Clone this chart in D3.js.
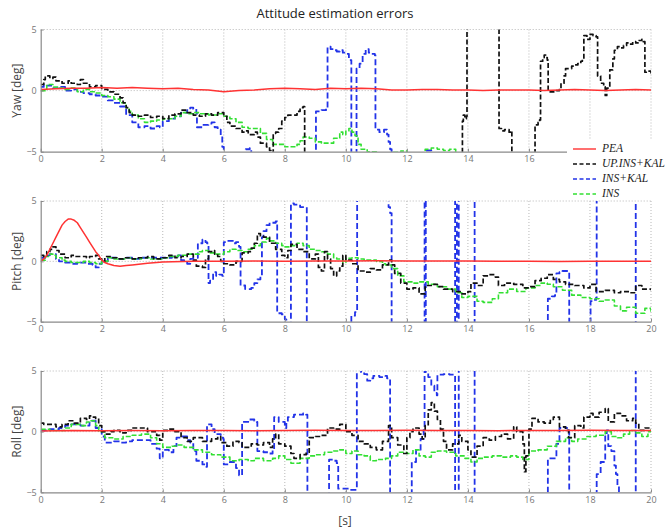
<!DOCTYPE html>
<html>
<head>
<meta charset="utf-8">
<script src="https://cdn.jsdelivr.net/npm/d3@7"></script>
<style>
  body { margin: 0; background: #fff; }
  svg { display: block; }
</style>
</head>
<body>
<svg id="chart"></svg>
<script>
var width = 669;
var height = 531;

// ================= DATA ([time s, error deg]) =================
const xTicks = [0, 2, 4, 6, 8, 10, 12, 14, 16, 18, 20];
const yTicks = [-5, 0, 5];
const seriesNames = ["PEA", "UP.INS+KAL", "INS+KAL", "INS"];
const panelLabels = ["Yaw [deg]", "Pitch [deg]", "Roll [deg]"];

const yawPEA = [[0,0.1],[0.5,0.15],[1,0.2],[1.5,0.2],[2,0.25],[2.5,0.2],[3,0.25],[3.5,0.2],[4,0.15],[4.5,0.2],[5,0.1],[5.5,0.05],[6,-0.1],[6.5,0],[7,0.05],[7.5,0.15],[8,0.2],[8.5,0.15],[9,0.1],[9.5,0.2],[10,0.15],[10.5,0.2],[11,0.15],[11.5,0.05],[12,0.05],[12.5,0.1],[13,0.1],[13.5,0.05],[14,0.05],[14.5,0],[15,0.05],[15.5,0.05],[16,0.05],[16.5,0],[17,0.05],[17.5,0.1],[18,0.05],[18.5,0],[19,0.05],[19.5,0.1],[20,0.05]];
const yawUP = [[0,0.5],[0.1,0.9],[0.15,1.2],[0.3,1.0],[0.4,1.1],[0.5,0.8],[0.7,0.6],[0.9,0.8],[1.0,0.6],[1.2,0.5],[1.3,0.9],[1.4,0.6],[1.6,0.3],[1.8,0.4],[2.0,0.1],[2.2,-0.1],[2.4,-0.3],[2.6,-0.6],[2.7,-1.0],[2.8,-1.4],[2.9,-1.8],[3.0,-2.0],[3.2,-2.1],[3.4,-2.0],[3.6,-2.2],[3.8,-2.1],[4.0,-2.3],[4.2,-2.0],[4.4,-1.9],[4.6,-1.6],[4.8,-1.8],[5.0,-2.0],[5.2,-2.1],[5.4,-1.9],[5.6,-2.0],[5.8,-1.8],[6.0,-2.1],[6.1,-2.6],[6.2,-2.9],[6.4,-3.1],[6.6,-3.4],[6.7,-3.3],[6.8,-3.6],[7.0,-3.4],[7.1,-3.8],[7.2,-4.3],[7.4,-4.6],[7.5,-4.9],[7.55,-6],[7.6,-6],[7.62,-3.5],[7.7,-3.4],[7.8,-3.1],[7.9,-2.5],[8.0,-2.2],[8.1,-2.0],[8.3,-2.0],[8.4,-1.7],[8.5,-1.4],[8.6,-1.3],[8.62,-1.3],[8.65,-7],[13.8,-7],[13.82,-2.5],[13.85,-2.0],[13.9,-2.3],[13.95,-2.1],[13.97,8],[15.0,8],[15.02,-3.1],[15.1,-3.3],[15.2,-3.2],[15.35,-3.4],[15.42,-3.3],[15.44,-7],[16.18,-7],[16.2,-2.8],[16.3,-2.6],[16.35,-2.4],[16.38,2.4],[16.45,2.7],[16.5,2.9],[16.55,2.7],[16.6,2.5],[16.63,-0.1],[16.8,-0.1],[16.9,0],[17.0,0.1],[17.05,0.6],[17.15,1.2],[17.2,1.8],[17.3,1.8],[17.4,2.0],[17.5,2.1],[17.6,2.2],[17.7,2.4],[17.75,2.6],[17.8,4.5],[17.9,4.2],[18.0,4.6],[18.1,4.5],[18.2,4.4],[18.25,1.2],[18.35,0.6],[18.45,0.3],[18.5,-0.4],[18.55,0.2],[18.65,1.7],[18.75,2.6],[18.8,3.3],[18.9,3.6],[19.0,3.5],[19.1,3.7],[19.2,3.9],[19.3,3.8],[19.4,4.0],[19.5,3.9],[19.6,4.1],[19.7,4.2],[19.75,4.0],[19.8,1.5],[19.9,1.6],[20.0,1.3]];
const yawINSKAL = [[0,0.3],[0.1,0.5],[0.2,0.4],[0.4,0.2],[0.6,0.3],[0.8,0.0],[1.0,0.1],[1.2,-0.1],[1.4,-0.2],[1.6,-0.3],[1.8,-0.4],[2.0,-0.5],[2.2,-0.8],[2.4,-1.0],[2.6,-1.3],[2.8,-2.0],[3.0,-2.6],[3.2,-3.0],[3.4,-2.9],[3.6,-3.1],[3.8,-2.9],[3.9,-3.0],[4.0,-2.5],[4.2,-2.3],[4.4,-2.1],[4.6,-1.8],[4.8,-1.6],[4.9,-1.4],[5.0,-1.5],[5.1,-1.8],[5.12,-3.0],[5.3,-2.8],[5.5,-2.7],[5.6,-2.6],[5.7,-3.0],[5.8,-3.2],[5.9,-3.7],[5.95,-4.6],[6.0,-7],[6.7,-7],[6.72,-4.8],[6.85,-4.7],[6.9,-7],[9.0,-7],[9.02,-1.7],[9.2,-1.6],[9.35,-1.4],[9.4,3.6],[9.5,3.4],[9.6,3.3],[9.7,3.2],[9.8,3.3],[9.9,3.1],[10.0,3.0],[10.1,2.5],[10.18,-7],[10.33,-7],[10.35,1.8],[10.45,2.2],[10.55,3.0],[10.65,3.4],[10.75,3.1],[10.85,3.0],[10.95,2.9],[10.97,-3.2],[11.1,-3.4],[11.25,-3.2],[11.35,-3.6],[11.4,-4.2],[11.45,-4.8],[11.5,-7],[12.58,-7],[12.6,-4.9],[12.75,-4.9],[12.8,-7],[20,-7]];
const yawINS = [[0,0.0],[0.2,0.5],[0.4,0.3],[0.6,0.2],[0.8,0.1],[1.0,0.2],[1.2,-0.1],[1.4,0.1],[1.6,-0.1],[1.8,-0.2],[2.0,-0.4],[2.2,-0.5],[2.4,-0.7],[2.6,-1.0],[2.8,-1.4],[2.9,-1.7],[3.0,-2.0],[3.2,-2.3],[3.4,-2.6],[3.6,-2.5],[3.8,-2.4],[4.0,-2.3],[4.2,-2.3],[4.4,-2.1],[4.6,-1.8],[4.8,-1.9],[5.0,-1.8],[5.2,-1.9],[5.5,-2.0],[5.8,-1.9],[6.0,-2.1],[6.2,-2.3],[6.4,-2.6],[6.6,-3.0],[6.8,-3.1],[7.0,-3.1],[7.2,-3.5],[7.4,-4.0],[7.6,-4.4],[7.8,-4.4],[8.0,-4.6],[8.2,-4.6],[8.4,-4.4],[8.5,-4.1],[8.6,-3.8],[8.8,-3.9],[9.0,-4.2],[9.2,-4.3],[9.4,-4.3],[9.6,-3.9],[9.8,-3.4],[9.9,-3.6],[10.0,-3.3],[10.1,-3.1],[10.2,-3.4],[10.3,-3.7],[10.4,-4.4],[10.5,-4.8],[10.7,-5.0],[11.0,-5.3],[11.5,-5.05],[11.8,-4.95],[12.0,-5.1],[12.5,-5.3],[12.6,-4.8],[12.8,-4.7],[13.0,-4.8],[13.2,-4.9],[13.4,-4.8],[13.6,-5.2],[14,-6],[20,-6]];

const pitchPEA = [[0,0.0],[0.1,0.2],[0.2,0.5],[0.3,1.0],[0.4,1.5],[0.5,2.0],[0.6,2.5],[0.7,3.0],[0.8,3.3],[0.9,3.5],[1.0,3.5],[1.1,3.4],[1.2,3.2],[1.3,2.8],[1.4,2.4],[1.5,2.0],[1.6,1.6],[1.7,1.2],[1.8,0.8],[1.9,0.5],[2.0,0.1],[2.1,-0.1],[2.2,-0.2],[2.4,-0.35],[2.6,-0.4],[2.8,-0.35],[3.0,-0.3],[3.5,-0.15],[4.0,-0.05],[5,0],[6,0],[7,0.02],[8,0],[9,0.02],[10,0.02],[11,0.05],[12,0.03],[13,0.02],[14,0.02],[15,0],[16,0],[17,-0.02],[18,0],[19,0],[20,0]];
const pitchUP = [[0,0.5],[0.1,0.4],[0.2,0.8],[0.3,1.0],[0.4,1.2],[0.5,0.9],[0.6,0.6],[0.8,0.3],[1.0,0.5],[1.1,0.4],[1.3,0.4],[1.5,0.3],[1.6,0.4],[1.8,0.5],[1.9,0.2],[2.0,0.0],[2.1,0.4],[2.3,0.3],[2.5,0.2],[2.7,0.3],[3.0,0.2],[3.2,0.3],[3.5,0.4],[3.7,0.2],[4.0,0.3],[4.2,0.5],[4.4,0.3],[4.6,0.4],[4.8,0.6],[5.0,0.1],[5.1,-0.4],[5.3,-0.5],[5.4,0.2],[5.5,0.8],[5.6,0.9],[5.7,0.6],[5.8,0.4],[5.9,0.0],[6.0,-0.2],[6.2,-0.3],[6.4,0.0],[6.6,0.7],[6.8,0.8],[6.9,1.1],[7.0,1.5],[7.1,2.3],[7.2,2.1],[7.3,2.0],[7.5,1.5],[7.7,1.0],[7.9,0.5],[8.0,0.3],[8.1,0.9],[8.2,1.4],[8.4,1.0],[8.6,0.8],[8.8,0.2],[9.0,0.6],[9.1,-0.5],[9.2,-0.8],[9.3,0.8],[9.4,0.2],[9.5,-0.6],[9.6,-1.2],[9.7,-0.8],[9.8,-0.4],[9.9,0.5],[10.0,0.1],[10.2,-0.2],[10.4,-0.8],[10.6,-0.9],[10.8,-0.6],[11.0,-0.7],[11.2,-0.3],[11.4,0.1],[11.5,-0.3],[11.6,-1.0],[11.8,-1.8],[12.0,-2.3],[12.2,-2.2],[12.4,-2.7],[12.6,-2.0],[12.8,-1.9],[13.0,-2.1],[13.2,-2.3],[13.5,-2.5],[13.8,-2.7],[14.0,-2.5],[14.1,-1.8],[14.3,-2.0],[14.5,-1.2],[14.7,-1.1],[14.9,-1.3],[15.0,-2.0],[15.2,-1.8],[15.5,-1.9],[15.8,-2.2],[16.0,-2.1],[16.2,-1.6],[16.4,-1.4],[16.6,-1.1],[16.8,-1.5],[17.0,-1.7],[17.2,-1.9],[17.5,-2.0],[17.8,-2.2],[18.0,-1.9],[18.2,-2.5],[18.5,-2.4],[18.8,-2.6],[19.0,-2.5],[19.3,-2.6],[19.5,-2.0],[19.7,-2.3],[20.0,-2.4]];
const pitchINSKAL = [[0,0.3],[0.15,0.5],[0.3,0.6],[0.5,0.2],[0.6,0.0],[0.8,-0.1],[1.0,-0.2],[1.2,-0.1],[1.5,-0.2],[1.7,-0.3],[1.8,-0.5],[1.9,-0.2],[2.0,0.0],[2.2,0.3],[2.5,0.2],[2.8,0.3],[3.0,0.2],[3.3,0.3],[3.6,0.3],[4.0,0.3],[4.3,0.4],[4.5,0.5],[4.6,0.1],[4.7,-0.1],[4.8,-0.2],[4.9,0.2],[5.0,0.3],[5.1,0.3],[5.15,1.5],[5.3,1.8],[5.4,1.6],[5.45,1.5],[5.5,-1.8],[5.55,-1.6],[5.65,-0.9],[5.75,-1.2],[5.85,-1.1],[5.95,-1.2],[6.0,1.6],[6.1,1.7],[6.3,1.5],[6.4,1.6],[6.5,1.2],[6.55,-2.0],[6.7,-2.3],[6.9,-2.2],[7.0,-1.8],[7.1,-1.5],[7.2,-1.2],[7.25,2.0],[7.3,2.5],[7.4,3.0],[7.5,3.2],[7.7,3.3],[7.75,-4.3],[7.9,-4.4],[8.0,-4.8],[8.05,-7],[8.18,-7],[8.2,4.8],[8.3,4.7],[8.5,4.5],[8.7,4.5],[8.72,-7],[10.15,-7],[10.18,-4.5],[10.3,-4.2],[10.35,-4.1],[10.37,8],[11.38,8],[11.4,4.5],[11.45,4.0],[11.5,-7],[12.56,-7],[12.58,8],[12.6,8],[12.62,-7],[13.56,-7],[13.58,8],[13.62,8],[13.64,-7],[13.68,-7],[13.7,8],[14.2,8],[14.22,-7],[16.6,-7],[16.62,-3.1],[16.75,-2.9],[16.85,-2.8],[16.9,-1.0],[17.0,-0.9],[17.1,-0.8],[17.3,-0.8],[17.32,-7],[18.0,-7],[18.02,-3.3],[18.1,-3.2],[18.2,-3.0],[18.22,8],[19.48,8],[19.5,-7],[20,-7]];
const pitchINS = [[0,0.1],[0.15,0.4],[0.3,0.6],[0.4,0.5],[0.5,0.3],[0.7,0.1],[0.8,0.0],[1.0,-0.1],[1.2,-0.1],[1.4,0.0],[1.6,-0.1],[1.8,-0.2],[2.0,0.0],[2.2,0.3],[2.4,0.2],[2.6,0.2],[2.8,0.3],[3.0,0.2],[3.3,0.3],[3.6,0.2],[4.0,0.3],[4.2,0.4],[4.5,0.5],[4.8,0.6],[5.0,0.6],[5.2,0.8],[5.3,0.9],[5.5,0.7],[5.7,0.6],[6.0,0.8],[6.2,1.0],[6.4,0.9],[6.6,0.8],[6.8,1.0],[7.0,1.3],[7.2,1.6],[7.4,1.9],[7.5,1.7],[7.7,1.5],[7.9,1.3],[8.0,1.2],[8.2,1.3],[8.4,1.5],[8.6,1.3],[8.8,1.0],[9.0,0.9],[9.2,0.8],[9.4,0.6],[9.6,0.3],[9.7,0.2],[9.9,-0.1],[10.0,0.25],[10.2,0.3],[10.4,0.2],[10.6,0.1],[10.8,0.1],[11.0,0.0],[11.2,-0.2],[11.3,-0.3],[11.5,-0.6],[11.7,-1.2],[11.9,-1.7],[12.2,-1.8],[12.4,-1.7],[12.7,-1.9],[13.0,-2.1],[13.3,-2.3],[13.6,-2.6],[13.8,-3.0],[14.0,-2.9],[14.3,-3.3],[14.5,-3.4],[14.8,-3.1],[15.0,-2.6],[15.3,-2.3],[15.6,-2.5],[15.9,-2.2],[16.2,-2.0],[16.4,-1.8],[16.6,-1.9],[16.8,-2.1],[17.1,-2.4],[17.4,-2.8],[17.7,-3.0],[18.0,-3.1],[18.3,-3.3],[18.5,-3.2],[18.8,-3.7],[19.0,-4.1],[19.2,-3.8],[19.5,-4.3],[19.8,-3.9],[20.0,-4.2]];

const rollPEA = [[0,0.05],[1,0.1],[2,0.08],[3,0.1],[4,0.08],[5,0.1],[6,0.1],[7,0.08],[8,0.1],[9,0.12],[10,0.1],[11,0.1],[12,0.12],[13,0.1],[14,0.1],[15,0.08],[16,0.1],[17,0.1],[18,0.12],[19,0.1],[20,0.1]];
const rollUP = [[0,0.7],[0.1,0.6],[0.3,0.6],[0.5,0.4],[0.7,0.6],[0.9,0.9],[1.1,0.7],[1.3,1.1],[1.5,1.0],[1.6,1.3],[1.7,1.2],[1.8,1.1],[1.9,0.5],[2.0,0.0],[2.1,-0.2],[2.3,0.0],[2.4,0.1],[2.6,-0.1],[2.8,0.1],[3.0,0.3],[3.3,0.3],[3.5,0.0],[3.8,-0.3],[3.9,-0.7],[4.0,0.1],[4.2,0.2],[4.4,0.0],[4.6,-0.5],[4.8,-0.8],[5.0,-0.5],[5.3,-0.8],[5.6,-0.6],[5.8,-0.4],[5.9,-0.9],[6.1,-1.2],[6.3,-0.8],[6.5,-0.9],[6.6,-1.3],[6.9,-1.0],[7.1,-1.1],[7.3,-0.9],[7.5,-1.3],[7.6,-0.6],[7.7,-0.2],[7.8,-1.0],[8.0,-1.2],[8.2,-1.8],[8.3,-2.2],[8.5,-1.9],[8.7,-1.7],[8.8,-0.5],[9.0,-0.4],[9.2,-0.3],[9.4,0.3],[9.6,0.2],[9.8,0.6],[10.0,0.0],[10.2,-0.3],[10.4,-0.8],[10.6,-1.0],[10.8,-1.3],[11.0,-1.5],[11.2,-0.8],[11.4,0.5],[11.5,-0.5],[11.7,-1.1],[11.9,-1.8],[12.0,-0.5],[12.1,0.0],[12.2,0.3],[12.4,-0.2],[12.5,-0.6],[12.6,0.5],[12.7,1.8],[12.8,2.4],[12.9,1.7],[13.0,1.0],[13.1,0.2],[13.2,-0.8],[13.3,-1.5],[13.5,-1.0],[13.7,-0.3],[13.8,-0.8],[14.0,-1.5],[14.1,-2.1],[14.3,-1.2],[14.5,-0.5],[14.7,-0.7],[14.9,-0.4],[15.1,-0.2],[15.3,-0.6],[15.5,0.4],[15.6,0.0],[15.8,-1.0],[15.85,-3.3],[15.9,-2.0],[16.0,0.2],[16.1,1.1],[16.3,0.8],[16.5,0.7],[16.7,1.0],[16.8,1.2],[17.0,0.4],[17.2,0.1],[17.3,-0.5],[17.5,0.5],[17.7,0.3],[17.8,1.2],[18.0,1.5],[18.1,1.2],[18.3,1.6],[18.5,1.9],[18.6,0.8],[18.8,1.5],[19.0,1.3],[19.2,0.9],[19.4,1.1],[19.5,0.7],[19.6,0.1],[19.8,0.3],[20.0,0.2]];
const rollINSKAL = [[0,0.1],[0.3,0.2],[0.6,0.3],[0.8,0.5],[1.0,0.6],[1.3,0.5],[1.6,0.9],[1.8,0.3],[2.0,-0.4],[2.1,-0.9],[2.4,-0.8],[2.6,-0.9],[2.8,-0.8],[3.0,-0.7],[3.3,-0.7],[3.6,-1.0],[3.8,-1.4],[3.9,-2.2],[4.0,-1.5],[4.2,-1.7],[4.35,-1.2],[4.45,-0.5],[4.6,-0.4],[4.8,-0.7],[4.9,-0.9],[5.0,-1.6],[5.1,-2.4],[5.3,-2.7],[5.4,-2.9],[5.45,0.6],[5.6,0.2],[5.7,-0.2],[5.9,-0.5],[5.98,-0.6],[6.0,-2.7],[6.2,-2.5],[6.4,-3.0],[6.5,-3.6],[6.55,-3.6],[6.6,0.8],[6.8,1.0],[7.0,0.9],[7.08,0.8],[7.1,-1.6],[7.3,-1.7],[7.45,-1.8],[7.6,-1.5],[7.65,1.2],[7.8,0.8],[8.0,0.3],[8.05,0.8],[8.1,1.2],[8.3,1.4],[8.6,1.5],[8.7,1.4],[8.74,-7],[9.4,-7],[9.45,-2.3],[9.6,-2.4],[9.7,-2.6],[9.75,-4.7],[10.0,-4.7],[10.1,-4.8],[10.34,-4.8],[10.36,8],[10.5,4.9],[10.6,4.75],[10.7,4.2],[10.8,4.4],[10.9,4.6],[11.1,4.5],[11.3,4.6],[11.35,4.4],[11.45,-7],[12.14,-7],[12.16,-2.5],[12.3,-1.5],[12.45,-0.6],[12.55,0.3],[12.58,8],[12.62,4.9],[12.7,4.5],[12.8,3.8],[12.9,3.2],[12.98,3.0],[13.0,4.7],[13.2,4.75],[13.4,4.7],[13.55,4.7],[13.58,-7],[13.68,-7],[13.7,8],[14.2,8],[14.22,-7],[16.6,-7],[16.62,-2.2],[16.8,-2.2],[16.9,-1.0],[17.0,0.3],[17.1,0.4],[17.2,0.3],[17.3,0.2],[17.32,-7],[18.2,-7],[18.22,-3.5],[18.35,-2.5],[18.5,-0.3],[18.55,0.1],[18.6,-1.2],[18.7,-1.6],[18.8,-2.8],[18.85,-3.5],[18.9,-4.5],[18.95,-7],[19.48,-7],[19.5,8],[20,8]];
const rollINS = [[0,0.2],[0.3,0.1],[0.5,0.1],[0.8,0.3],[1.0,0.6],[1.3,0.5],[1.5,0.8],[1.6,0.9],[1.8,0.5],[1.9,0.0],[2.1,-0.5],[2.4,-0.6],[2.7,-0.4],[3.0,-0.3],[3.3,-0.2],[3.6,-0.5],[3.8,-1.0],[4.0,-1.3],[4.3,-1.2],[4.5,-1.1],[4.7,-1.3],[5.0,-1.5],[5.3,-1.7],[5.6,-1.9],[5.9,-2.1],[6.2,-2.4],[6.5,-2.3],[6.8,-2.4],[7.0,-2.2],[7.3,-2.4],[7.6,-2.2],[7.8,-2.0],[8.0,-2.3],[8.2,-2.6],[8.5,-2.2],[8.8,-2.0],[9.0,-1.9],[9.3,-1.7],[9.6,-1.6],[9.8,-1.5],[10.0,-1.8],[10.2,-1.6],[10.4,-1.9],[10.6,-2.0],[10.8,-2.4],[11.0,-2.3],[11.3,-2.2],[11.5,-2.0],[11.7,-1.7],[12.0,-1.8],[12.2,-1.5],[12.4,-2.0],[12.6,-2.1],[12.8,-1.7],[13.0,-1.6],[13.3,-1.7],[13.6,-2.0],[13.9,-2.2],[14.1,-2.5],[14.3,-2.2],[14.5,-2.1],[14.8,-2.0],[15.1,-2.1],[15.4,-2.0],[15.6,-2.1],[15.8,-2.3],[16.0,-1.6],[16.3,-1.5],[16.6,-1.2],[16.9,-0.8],[17.2,-0.5],[17.4,-0.8],[17.6,-0.6],[17.9,-0.4],[18.2,-0.3],[18.5,0.0],[18.7,-0.4],[18.9,-0.5],[19.1,-0.2],[19.3,0.1],[19.5,-0.1],[19.7,-0.4],[19.9,0.0],[20.0,0.2]];
// ===============================================================

// style per series (same order as seriesNames)
const styles = [
  { color: "#ff3333", dash: null,  w: 1.5, curve: d3.curveLinear },
  { color: "#111111", dash: "5,2.5", w: 1.7, curve: d3.curveStepAfter },
  { color: "#2233e8", dash: "6,3", w: 1.8, curve: d3.curveStepAfter },
  { color: "#33e033", dash: "5,2", w: 1.6, curve: d3.curveStepAfter }
];
const drawOrder = [2, 3, 1, 0];

const panels = [
  { label: panelLabels[0], top: 29.5, bottom: 151.7, data: [yawPEA, yawUP, yawINSKAL, yawINS], maxLabel: 16 },
  { label: panelLabels[1], top: 201, bottom: 321.7, data: [pitchPEA, pitchUP, pitchINSKAL, pitchINS], maxLabel: 20 },
  { label: panelLabels[2], top: 371, bottom: 492.3, data: [rollPEA, rollUP, rollINSKAL, rollINS], maxLabel: 20 }
];

const left = 40.7, right = 651;
const xs = d3.scaleLinear().domain([0, 20]).range([left, right]);

const svg = d3.select("#chart").attr("width", width).attr("height", height);
const defs = svg.append("defs");

panels.forEach(function(p, i) {
  const ys = d3.scaleLinear().domain([-5, 5]).range([p.bottom, p.top]);
  const g = svg.append("g");

  defs.append("clipPath").attr("id", "clip" + i)
    .append("rect")
    .attr("x", left).attr("y", p.top)
    .attr("width", right - left).attr("height", p.bottom - p.top);

  // dotted grid
  g.append("g").selectAll("line").data(xTicks.slice(1))
    .enter().append("line")
    .attr("x1", d => xs(d)).attr("x2", d => xs(d))
    .attr("y1", p.top).attr("y2", p.bottom)
    .attr("stroke", "#b8b8b8").attr("stroke-width", 1)
    .attr("stroke-dasharray", "1,2");
  g.append("g").selectAll("line").data(yTicks.slice(1))
    .enter().append("line")
    .attr("x1", left).attr("x2", right)
    .attr("y1", d => ys(d)).attr("y2", d => ys(d))
    .attr("stroke", "#b8b8b8").attr("stroke-width", 1)
    .attr("stroke-dasharray", "1,2");

  // series
  const lg = g.append("g").attr("clip-path", "url(#clip" + i + ")");
  drawOrder.forEach(function(k) {
    const st = styles[k];
    const line = d3.line().x(d => xs(d[0])).y(d => ys(d[1])).curve(st.curve);
    lg.append("path")
      .datum(p.data[k])
      .attr("fill", "none")
      .attr("stroke", st.color)
      .attr("stroke-width", st.w)
      .attr("stroke-linejoin", "round")
      .attr("stroke-dasharray", st.dash)
      .attr("d", line);
  });

  // axes (labels under the legend box are left out)
  const xAxis = g.append("g")
    .attr("transform", "translate(0," + p.bottom + ")")
    .call(d3.axisBottom(xs).tickValues(xTicks)
      .tickFormat(d => d <= p.maxLabel ? d : "")
      .tickSizeInner(-3).tickSizeOuter(0).tickPadding(4));
  const yAxis = g.append("g")
    .attr("transform", "translate(" + left + ",0)")
    .call(d3.axisLeft(ys).tickValues(yTicks).tickSizeInner(-3).tickSizeOuter(0).tickPadding(4));
  [xAxis, yAxis].forEach(function(a) {
    a.select(".domain").attr("stroke", "#8a8a8a").attr("stroke-width", 1.2);
    a.selectAll(".tick line").attr("stroke", "#8a8a8a");
    a.selectAll("text").attr("fill", "#777").style("font-family", "Open Sans, sans-serif").style("font-size", "9px");
  });

  g.append("text")
    .attr("transform", "translate(18," + ((p.top + p.bottom) / 2) + ") rotate(-90)")
    .attr("text-anchor", "middle")
    .attr("dominant-baseline", "middle")
    .style("font-family", "Open Sans, sans-serif")
    .style("font-size", "12px")
    .attr("fill", "#444")
    .text(p.label);
});

// title and x label
svg.append("text")
  .attr("x", 335).attr("y", 18)
  .attr("text-anchor", "middle")
  .style("font-family", "Open Sans, sans-serif")
  .style("font-size", "13px")
  .attr("fill", "#222")
  .text("Attitude estimation errors");

svg.append("text")
  .attr("x", 345).attr("y", 525)
  .attr("text-anchor", "middle")
  .style("font-family", "Open Sans, sans-serif")
  .style("font-size", "12px")
  .attr("fill", "#444")
  .text("[s]");

// legend (white box covering the yaw axis corner)
const legend = svg.append("g");
legend.append("rect")
  .attr("x", 567).attr("y", 140).attr("width", 102).attr("height", 59)
  .attr("fill", "#fff");
const legY = d3.scalePoint().domain(seriesNames).range([149, 194]);
seriesNames.forEach(function(name, k) {
  const st = styles[k];
  legend.append("line")
    .attr("x1", 573).attr("x2", 596)
    .attr("y1", legY(name)).attr("y2", legY(name))
    .attr("stroke", st.color).attr("stroke-width", 1.4)
    .attr("stroke-dasharray", st.dash ? "4,2.5" : null);
  legend.append("text")
    .attr("x", 602).attr("y", legY(name))
    .attr("dominant-baseline", "middle")
    .style("font-family", "Liberation Serif, serif")
    .style("font-style", "italic")
    .style("font-size", "11.5px")
    .attr("fill", "#222")
    .text(name);
});
</script>
</body>
</html>
